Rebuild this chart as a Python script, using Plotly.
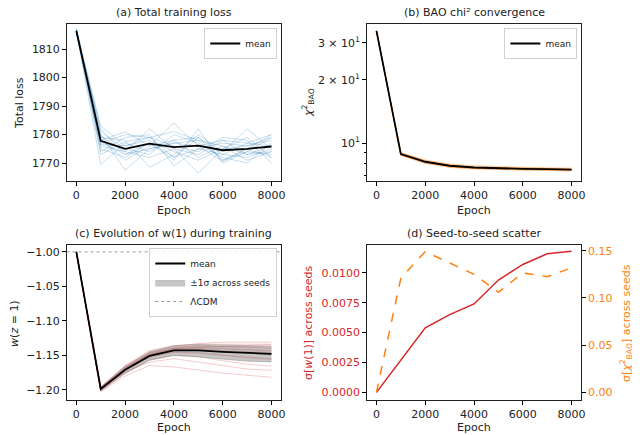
import plotly.graph_objects as go

epochs = [0, 1000, 2000, 3000, 4000, 5000, 6000, 7000, 8000]

# (a) total loss
loss_mean = [1816.4, 1777.8, 1775.0, 1776.8, 1775.6, 1776.1, 1774.5, 1775.0, 1775.8]
loss_seeds = [
    [1816.8, 1783.0, 1776.0, 1779.0, 1772.0, 1775.0, 1773.0, 1777.0, 1780.0],
    [1816.0, 1769.5, 1777.0, 1774.0, 1778.0, 1772.0, 1776.0, 1771.0, 1774.0],
    [1817.2, 1780.0, 1767.5, 1775.0, 1777.0, 1778.0, 1771.0, 1775.0, 1772.0],
    [1815.8, 1778.0, 1781.0, 1776.0, 1784.0, 1776.0, 1778.0, 1773.0, 1776.0],
    [1816.5, 1776.0, 1774.0, 1782.0, 1775.0, 1766.5, 1775.0, 1776.0, 1779.0],
    [1816.3, 1779.0, 1778.0, 1768.5, 1773.0, 1780.0, 1774.0, 1782.0, 1775.0],
    [1817.0, 1775.0, 1772.0, 1777.0, 1771.0, 1782.0, 1770.0, 1774.0, 1773.0],
    [1816.1, 1777.0, 1780.0, 1779.0, 1776.0, 1774.0, 1779.0, 1778.0, 1770.0],
    [1816.6, 1781.0, 1775.0, 1773.0, 1780.0, 1777.0, 1772.0, 1770.0, 1777.0],
    [1816.2, 1774.0, 1779.0, 1780.0, 1769.0, 1775.0, 1777.0, 1776.0, 1778.0],
    [1816.9, 1778.5, 1771.0, 1776.0, 1778.0, 1779.0, 1773.0, 1772.0, 1775.0],
    [1815.9, 1776.5, 1776.0, 1778.0, 1774.0, 1771.0, 1775.0, 1779.0, 1772.0],
    [1816.4, 1782.0, 1773.0, 1775.0, 1777.0, 1776.0, 1770.5, 1775.0, 1780.0],
    [1816.7, 1773.0, 1777.5, 1779.0, 1781.0, 1778.0, 1776.0, 1773.0, 1774.0],
    [1816.0, 1779.5, 1774.0, 1772.0, 1775.0, 1773.0, 1778.0, 1777.0, 1776.0],
    [1816.5, 1777.5, 1773.0, 1777.0, 1772.0, 1779.0, 1771.0, 1774.0, 1779.0],
]

# (b) BAO chi2
chi_mean = [34.2, 8.86, 8.15, 7.80, 7.65, 7.58, 7.54, 7.51, 7.48]
chi_seeds = [
    [34.2, 8.98, 8.30, 7.95, 7.80, 7.70, 7.66, 7.62, 7.60],
    [34.2, 8.72, 8.00, 7.66, 7.52, 7.47, 7.43, 7.40, 7.36],
    [34.2, 8.90, 8.22, 7.88, 7.70, 7.62, 7.60, 7.55, 7.52],
    [34.2, 8.80, 8.05, 7.72, 7.58, 7.50, 7.46, 7.44, 7.42],
    [34.2, 9.02, 8.18, 7.84, 7.68, 7.64, 7.58, 7.56, 7.55],
    [34.2, 8.75, 8.10, 7.76, 7.62, 7.55, 7.52, 7.48, 7.45],
    [34.2, 8.85, 8.12, 7.82, 7.64, 7.57, 7.55, 7.53, 7.50],
    [34.2, 8.95, 8.26, 7.70, 7.60, 7.53, 7.50, 7.47, 7.44],
]

# (c) w(z=1)
w_mean = [-1.000, -1.199, -1.171, -1.151, -1.143, -1.143, -1.145, -1.147, -1.148]
w_seeds = [
    [-1.000, -1.197, -1.166, -1.145, -1.137, -1.133, -1.131, -1.131, -1.131],
    [-1.000, -1.201, -1.174, -1.160, -1.155, -1.160, -1.166, -1.170, -1.172],
    [-1.000, -1.203, -1.180, -1.165, -1.167, -1.172, -1.176, -1.179, -1.182],
    [-1.000, -1.198, -1.168, -1.148, -1.140, -1.138, -1.137, -1.136, -1.135],
    [-1.000, -1.200, -1.172, -1.152, -1.145, -1.146, -1.150, -1.154, -1.156],
    [-1.000, -1.196, -1.167, -1.146, -1.139, -1.136, -1.137, -1.139, -1.140],
    [-1.000, -1.199, -1.170, -1.150, -1.142, -1.141, -1.143, -1.145, -1.146],
    [-1.000, -1.202, -1.176, -1.156, -1.150, -1.152, -1.158, -1.163, -1.166],
    [-1.000, -1.197, -1.168, -1.149, -1.141, -1.139, -1.140, -1.142, -1.143],
    [-1.000, -1.199, -1.171, -1.151, -1.143, -1.142, -1.144, -1.147, -1.150],
    [-1.000, -1.198, -1.169, -1.147, -1.140, -1.137, -1.138, -1.138, -1.138],
    [-1.000, -1.201, -1.173, -1.153, -1.146, -1.147, -1.150, -1.153, -1.155],
    [-1.000, -1.200, -1.170, -1.149, -1.141, -1.140, -1.141, -1.143, -1.144],
    [-1.000, -1.196, -1.165, -1.143, -1.136, -1.134, -1.134, -1.134, -1.134],
]
lcdm_w = -1.0

# (d) seed-to-seed scatter
sigma_w = [0.0, 0.0027, 0.0054, 0.0065, 0.0074, 0.0094, 0.0107, 0.0116, 0.0118]
sigma_chi = [0.0, 0.121, 0.149, 0.137, 0.125, 0.106, 0.1265, 0.1225, 0.1318]

RED = "#d62728"
ORANGE = "#ff7f0e"
FONT = "DejaVu Sans"

W, H = 644, 435
def px_x(p):
    return p / W
def px_y(p):
    return 1 - p / H

fig = go.Figure()

# (a)
for s in loss_seeds:
    fig.add_trace(go.Scatter(x=epochs, y=s, mode="lines", xaxis="x", yaxis="y",
                             line=dict(color="rgba(31,119,180,0.3)", width=0.8),
                             showlegend=False, hoverinfo="skip"))
fig.add_trace(go.Scatter(x=epochs, y=loss_mean, mode="lines", xaxis="x", yaxis="y",
                         line=dict(color="black", width=1.8), name="mean", legend="legend"))

# (b)
for s in chi_seeds:
    fig.add_trace(go.Scatter(x=epochs, y=s, mode="lines", xaxis="x2", yaxis="y2",
                             line=dict(color="rgba(255,127,14,0.4)", width=1),
                             showlegend=False, hoverinfo="skip"))
fig.add_trace(go.Scatter(x=epochs, y=chi_mean, mode="lines", xaxis="x2", yaxis="y2",
                         line=dict(color="black", width=1.8), name="mean", legend="legend2"))

# (c)
for s in w_seeds:
    fig.add_trace(go.Scatter(x=epochs, y=s, mode="lines", xaxis="x3", yaxis="y3",
                             line=dict(color="rgba(214,39,40,0.3)", width=0.8),
                             showlegend=False, hoverinfo="skip"))
upper = [m + s for m, s in zip(w_mean, sigma_w)]
lower = [m - s for m, s in zip(w_mean, sigma_w)]
fig.add_trace(go.Scatter(x=epochs, y=upper, mode="lines", xaxis="x3", yaxis="y3",
                         line=dict(width=0, color="rgba(128,128,128,0)"),
                         showlegend=False, hoverinfo="skip"))
fig.add_trace(go.Scatter(x=epochs, y=lower, mode="lines", xaxis="x3", yaxis="y3",
                         fill="tonexty", fillcolor="rgba(128,128,128,0.45)",
                         line=dict(width=0.6, color="rgba(110,110,110,0.5)"),
                         name="±1σ across seeds", legend="legend3", legendrank=2))
fig.add_trace(go.Scatter(x=epochs, y=w_mean, mode="lines", xaxis="x3", yaxis="y3",
                         line=dict(color="black", width=1.8), name="mean", legend="legend3",
                         legendrank=1))
fig.add_trace(go.Scatter(x=[epochs[0] - 400, epochs[-1] + 400], y=[lcdm_w, lcdm_w], mode="lines",
                         xaxis="x3", yaxis="y3",
                         line=dict(color="gray", width=0.8, dash="dot"), name="ΛCDM",
                         legend="legend3", legendrank=3))

# (d)
fig.add_trace(go.Scatter(x=epochs, y=sigma_w, mode="lines", xaxis="x4", yaxis="y4",
                         line=dict(color=RED, width=1.5), showlegend=False))
fig.add_trace(go.Scatter(x=epochs, y=sigma_chi, mode="lines", xaxis="x4", yaxis="y5",
                         line=dict(color=ORANGE, width=1.5, dash="dash"), showlegend=False))

colL = [px_x(67), px_x(283)]
colR = [px_x(369), px_x(585)]
rowT = [px_y(181), px_y(24)]
rowB = [px_y(400), px_y(245)]

def xax(dom, anchor):
    return dict(domain=dom, anchor=anchor, range=[-400, 8400],
                tickvals=[0, 2000, 4000, 6000, 8000], ticks="outside", ticklen=3.5,
                tickwidth=0.8, tickcolor="black", showline=True, linecolor="#222",
                linewidth=1, mirror=True, showgrid=False, zeroline=False,
                tickfont=dict(size=11, color="#222"))

def yax(dom, anchor, **kw):
    d = dict(domain=dom, anchor=anchor, ticks="outside", ticklen=3.5, tickwidth=0.8,
             tickcolor="black", showline=True, linecolor="#222", linewidth=1,
             mirror=True, showgrid=False, zeroline=False,
             tickfont=dict(size=11, color="#222"))
    d.update(kw)
    return d

legend_common = dict(xanchor="right", yanchor="top", bgcolor="rgba(255,255,255,0.8)",
                     bordercolor="#d0d0d0", borderwidth=1, traceorder="normal",
                     font=dict(size=9, color="#222"), tracegroupgap=0, itemwidth=30)

fig.update_layout(
    width=W, height=H, margin=dict(l=0, r=0, t=0, b=0),
    paper_bgcolor="white", plot_bgcolor="white",
    font=dict(family=FONT, size=11, color="#222"),
    xaxis=xax(colL, "y"),
    yaxis=yax(rowT, "x", range=[1763.7, 1818.8], tickvals=[1770, 1780, 1790, 1800, 1810]),
    xaxis2=xax(colR, "y2"),
    yaxis2=yax(rowT, "x2", type="log", range=[0.8195, 1.567],
               tickvals=[10, 20, 30],
               ticktext=["10<sup>1</sup>", "2 × 10<sup>1</sup>", "3 × 10<sup>1</sup>"],
               minor=dict(tickvals=[7, 8, 9], ticks="outside", ticklen=2,
                          tickwidth=0.6, tickcolor="black", showgrid=False)),
    xaxis3=xax(colL, "y3"),
    yaxis3=yax(rowB, "x3", range=[-1.215, -0.99],
               tickvals=[-1.20, -1.15, -1.10, -1.05, -1.00], tickformat=".2f"),
    xaxis4=xax(colR, "y4"),
    yaxis4=yax(rowB, "x4", range=[-0.00064, 0.01233],
               tickvals=[0, 0.0025, 0.005, 0.0075, 0.01], tickformat=".4f",
               tickfont=dict(size=11, color=RED), mirror=False),
    yaxis5=dict(domain=rowB, anchor="x4", overlaying="y4", side="right",
                range=[-0.0081, 0.156], tickvals=[0, 0.05, 0.10, 0.15], tickformat=".2f",
                ticks="outside", ticklen=3.5, tickwidth=0.8, tickcolor="black",
                showline=True, linecolor="#222", linewidth=1, showgrid=False,
                zeroline=False, tickfont=dict(size=11, color=ORANGE)),
    legend=dict(x=px_x(279), y=px_y(28), **legend_common),
    legend2=dict(x=px_x(581), y=px_y(28), **legend_common),
    legend3=dict(x=px_x(279), y=px_y(248), **legend_common),
)

def ann(text, x, y, angle=0, color="#222", size=11):
    fig.add_annotation(text=text, x=px_x(x), y=px_y(y), xref="paper", yref="paper",
                       showarrow=False, textangle=angle, xanchor="center", yanchor="middle",
                       font=dict(family=FONT, size=size, color=color))

ann("(a) Total training loss", 175, 13)
ann("(b) BAO chi² convergence", 477, 13)
ann("(c) Evolution of w(1) during training", 175, 234)
ann("(d) Seed-to-seed scatter", 477, 234)
ann("Epoch", 175, 210)
ann("Epoch", 477, 210)
ann("Epoch", 175, 427)
ann("Epoch", 477, 427)
ann("Total loss", 20, 103, -90)
ann("<i>χ</i><sup>2</sup><sub>BAO</sub>", 310, 103, -90)
ann("<i>w</i>(<i>z</i> = 1)", 14, 323, -90)
ann("σ[<i>w</i>(1)] across seeds", 310, 323, -90, RED)
ann("σ[<i>χ</i><sup>2</sup><sub>BAO</sub>] across seeds", 630, 323, -90, ORANGE)

fig.write_html("out.html", config={"displayModeBar": False},
               post_script="document.body.style.margin='0px';document.body.style.padding='0px';")
